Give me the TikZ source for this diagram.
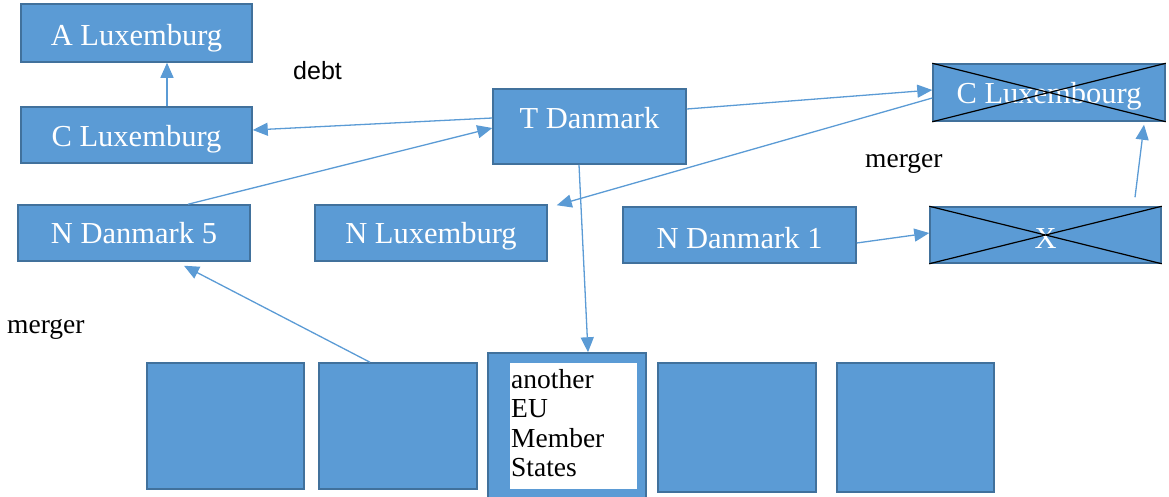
\documentclass[tikz,border=0pt]{standalone}
\usepackage{fontspec}
\setmainfont{Liberation Serif}
\newfontfamily\labelsans{Liberation Sans}
\usetikzlibrary{arrows.meta}
\definecolor{boxfill}{HTML}{5B9BD5}
\definecolor{boxedge}{HTML}{41719C}
\definecolor{linkblue}{HTML}{5B9BD5}

\begin{document}
\begin{tikzpicture}[x=1pt,y=-1pt,
  entity/.style={draw=boxedge, line width=1.5pt, fill=boxfill, text=white,
    inner sep=0pt, font=\fontsize{30.5}{36}\selectfont,
    text height=28pt, text depth=6pt},
  memberbox/.style={draw=boxedge, line width=1.5pt, fill=boxfill, inner sep=0pt},
  innerbox/.style={fill=white, draw=none, inner sep=0pt},
  link/.style={draw=linkblue, line width=1.3pt, -{Triangle[length=15pt,width=13pt]}},
  cross/.style={draw=black, line width=1.2pt},
  note/.style={inner sep=0pt, anchor=base west, font=\fontsize{27.5}{32}\selectfont}
]
\useasboundingbox (0,0) rectangle (1169,496);
\clip (0,0) rectangle (1169,496);

% companies
\node[entity, minimum width=231pt, minimum height=58pt, text height=30pt] (aLux) at (136.5,33) {A Luxemburg};
\node[entity, minimum width=231pt, minimum height=56pt] (cLux) at (136.5,135) {C Luxemburg};
\node[entity, minimum width=232pt, minimum height=56pt, text height=26pt] (nDkF) at (134,233) {N Danmark 5};
\node[entity, minimum width=232pt, minimum height=56pt, text height=26pt] (nLux) at (431,233) {N Luxemburg};
\node[entity, minimum width=193pt, minimum height=75pt, text height=20pt, text depth=17pt] (tDan) at (589.5,126.5) {T Danmark};
\node[entity, minimum width=232pt, minimum height=57pt, text height=27pt] (cLuxC) at (1049,92.5) {C Luxembourg};
\node[entity, minimum width=233pt, minimum height=56pt, text height=32pt] (nDkO) at (739.5,235) {N Danmark 1};
\node[entity, minimum width=231pt, minimum height=56pt, text height=32pt] (xBox) at (1045.5,235) {X};

% companies removed by the mergers
\draw[cross] (cLuxC.north west) -- (cLuxC.south east) (cLuxC.south west) -- (cLuxC.north east);
\draw[cross] (xBox.north west) -- (xBox.south east) (xBox.south west) -- (xBox.north east);

% member states
\node[memberbox, minimum width=157pt, minimum height=126pt] (bA) at (225.5,426) {};
\node[memberbox, minimum width=158pt, minimum height=126pt] (bB) at (398,426) {};
\node[memberbox, minimum width=158pt, minimum height=149pt] (memB) at (567,427.5) {};
\node[innerbox, minimum width=127pt, minimum height=126pt] (memW) at (573.5,426) {};
\node[inner sep=0pt, anchor=north west, align=left, font=\fontsize{27.5}{29.5}\selectfont] (memText) at (511,369) {another\\EU\\Member\\States};
\node[memberbox, minimum width=158pt, minimum height=129pt] (bD) at (737,427.5) {};
\node[memberbox, minimum width=157pt, minimum height=129pt] (bE) at (915.5,427.5) {};

% labels
\node[inner sep=0pt, anchor=base west, font=\labelsans\fontsize{25}{30}\selectfont] (debtLbl) at (293,79) {debt};
\node[note] (mergerL) at (7,333) {merger};
\node[note] (mergerR) at (865,167) {merger};

% connectors
\draw[link] ([xshift=30.5pt]cLux.north) -- ([xshift=30.5pt]aLux.south);
\draw[link] ([yshift=8.5pt]tDan.west) -- ([yshift=5pt]cLux.east);
\draw[link] ([xshift=54pt]nDkF.north) -- ([yshift=-1.5pt]tDan.west);
\draw[link] ([yshift=17.5pt]tDan.east) -- ([yshift=2.5pt]cLuxC.west);
\draw[link] ([yshift=-5.5pt]cLuxC.west) -- ([xshift=9pt,yshift=-1pt]nLux.north east);
\draw[link] ([xshift=-10.5pt]tDan.south) -- ([xshift=21pt]memB.north);
\draw[link] ([xshift=-28pt]bB.north) -- ([xshift=50pt,yshift=-4pt]nDkF.south);
\draw[link] ([yshift=-8pt]nDkO.east) -- ([yshift=2pt]xBox.west);
\draw[link] ([xshift=89.5pt,yshift=9pt]xBox.north) -- ([xshift=95pt,yshift=-3pt]cLuxC.south);
\end{tikzpicture}
\end{document}
